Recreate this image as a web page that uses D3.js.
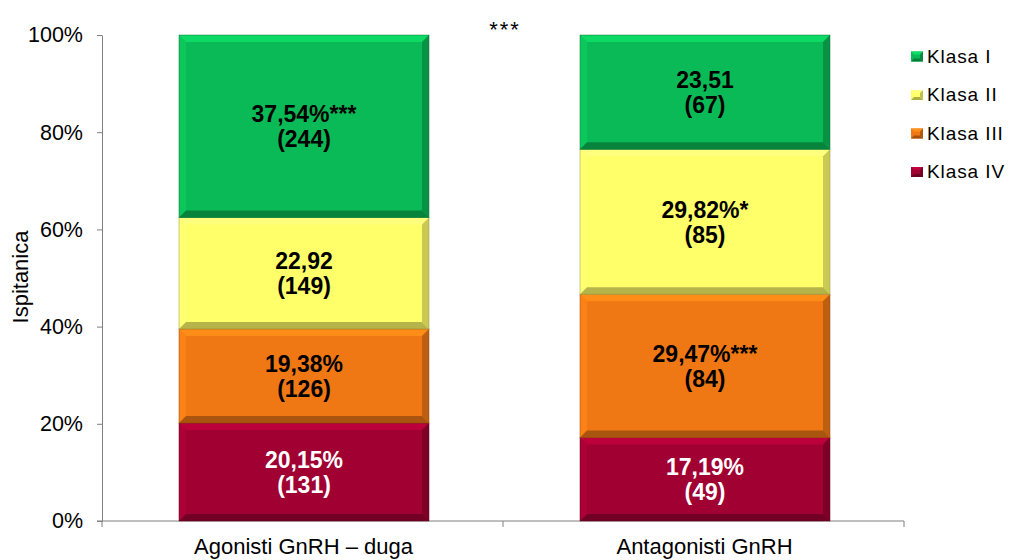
<!DOCTYPE html>
<html><head><meta charset="utf-8">
<script src="https://cdn.jsdelivr.net/npm/d3@7"></script>
<style>body{margin:0;background:#fff}svg{display:block;font-family:"Liberation Sans",Arial,sans-serif}</style>
</head><body><svg id="c" width="1009" height="560"></svg>
<script>
const categories = ["Agonisti GnRH – duga", "Antagonisti GnRH"];
const seriesNames = ["Klasa IV", "Klasa III", "Klasa II", "Klasa I"];
const klasaIV = [20.15, 17.19];
const klasaIII = [19.38, 29.47];
const klasaII = [22.92, 29.82];
const klasaI = [37.54, 23.51];
const labelsIV = ["20,15%\n(131)", "17,19%\n(49)"];
const labelsIII = ["19,38%\n(126)", "29,47%***\n(84)"];
const labelsII = ["22,92\n(149)", "29,82%*\n(85)"];
const labelsI = ["37,54%***\n(244)", "23,51\n(67)"];
const yTicks = [0, 20, 40, 60, 80, 100];
const colors = ["#a00032", "#f07814", "#ffff6a", "#0aba56"];
const textColors = ["#ffffff", "#000000", "#000000", "#000000"];
const legendOrder = ["Klasa I", "Klasa II", "Klasa III", "Klasa IV"];

const svg = d3.select("#c");
const x = d3.scaleBand().domain(categories).range([102, 904]).paddingInner(0).paddingOuter(0);
const y = d3.scaleLinear().domain([0, 100]).range([521, 35]);
const barW = 250;

const series = [klasaIV, klasaIII, klasaII, klasaI];
const labels = [labelsIV, labelsIII, labelsII, labelsI];
const rows = categories.map((c, i) => {
  const o = {cat: c};
  seriesNames.forEach((s, k) => o[s] = series[k][i]);
  return o;
});
const stacked = d3.stack().keys(seriesNames)(rows);

// y axis
const yAxis = d3.axisLeft(y).tickValues(yTicks).tickFormat(d => d + "%").tickSize(5).tickSizeOuter(0);
const gy = svg.append("g").attr("transform", "translate(102,0)").call(yAxis);
gy.select(".domain").attr("stroke", "#7f7f7f");
gy.selectAll(".tick line").attr("stroke", "#7f7f7f");
gy.selectAll(".tick text").attr("font-size", 21.5).attr("fill", "#000").attr("x", -19)
  .attr("font-family", "Liberation Sans, Arial, sans-serif");

// x axis
svg.append("line").attr("x1", 97).attr("x2", 904).attr("y1", y(0)).attr("y2", y(0)).attr("stroke", "#7f7f7f");
[102, x.bandwidth() + 102, 904].forEach(t => {
  svg.append("line").attr("x1", t).attr("x2", t).attr("y1", y(0)).attr("y2", y(0) + 6).attr("stroke", "#7f7f7f");
});
svg.selectAll(".xl").data(categories).enter().append("text")
  .attr("x", d => x(d) + x.bandwidth() / 2 + 1).attr("y", 554)
  .attr("text-anchor", "middle").attr("font-size", 22).text(d => d);

// axis title
svg.append("text").attr("transform", "translate(28,277) rotate(-90)")
  .attr("text-anchor", "middle").attr("font-size", 22).text("Ispitanica");

// bars with bevel
const bev = 7;
stacked.forEach((layer, k) => {
  layer.forEach((d, i) => {
    const cx = x(categories[i]) + x.bandwidth() / 2 + 1.5;
    const x0 = cx - barW / 2, x1 = cx + barW / 2;
    const yt = y(d[1]), yb = y(d[0]);
    const g = svg.append("g");
    const base = d3.color(colors[k]);
    g.append("rect").attr("x", x0).attr("y", yt).attr("width", barW).attr("height", yb - yt).attr("fill", colors[k]);
    const pts = a => a.map(p => p.join(",")).join(" ");
    g.append("polygon").attr("points", pts([[x0, yt], [x1, yt], [x1 - bev, yt + bev], [x0 + bev, yt + bev]]))
      .attr("fill", base.brighter(0.5)).attr("opacity", 0.9);
    g.append("polygon").attr("points", pts([[x0, yt], [x0 + bev, yt + bev], [x0 + bev, yb - bev], [x0, yb]]))
      .attr("fill", base.brighter(0.25)).attr("opacity", 0.8);
    g.append("polygon").attr("points", pts([[x1, yt], [x1 - bev, yt + bev], [x1 - bev, yb - bev], [x1, yb]]))
      .attr("fill", base.darker(0.8)).attr("opacity", 0.85);
    g.append("polygon").attr("points", pts([[x0, yb], [x0 + bev, yb - bev], [x1 - bev, yb - bev], [x1, yb]]))
      .attr("fill", base.darker(1.1)).attr("opacity", 0.9);
    g.append("rect").attr("x", x0).attr("y", yt).attr("width", barW).attr("height", yb - yt)
      .attr("fill", "none").attr("stroke", base.darker(1.5)).attr("stroke-width", 0.8).attr("opacity", 0.6);
    const lines = labels[k][i].split("\n");
    const ym = (yt + yb) / 2;
    const t = g.append("text").attr("text-anchor", "middle").attr("font-size", 23).attr("font-weight", "bold")
      .attr("fill", textColors[k]);
    lines.forEach((ln, j) => {
      t.append("tspan").attr("x", cx).attr("y", ym - 4 + j * 25).text(ln);
    });
  });
});

// significance marker
svg.append("text").attr("x", 505).attr("y", 37).attr("text-anchor", "middle").attr("font-size", 22)
  .attr("letter-spacing", 2).text("***");

// legend
const ly = [56.5, 95, 133.5, 172];
legendOrder.forEach((name, i) => {
  const k = seriesNames.indexOf(name);
  const base = d3.color(colors[k]);
  const g = svg.append("g").attr("transform", `translate(911,${ly[i]})`);
  g.append("rect").attr("x", 0).attr("y", -5).attr("width", 12).attr("height", 10).attr("fill", colors[k]);
  g.append("polygon").attr("points", "0,-5 12,-5 9,-2 3,-2").attr("fill", base.brighter(0.5));
  g.append("polygon").attr("points", "12,-5 12,5 9,2 9,-2").attr("fill", base.darker(0.8));
  g.append("polygon").attr("points", "0,5 12,5 9,2 3,2").attr("fill", base.darker(1.1));
  g.append("text").attr("x", 16).attr("y", 6).attr("font-size", 19).attr("letter-spacing", 0.9).text(name);
});
</script></body></html>
